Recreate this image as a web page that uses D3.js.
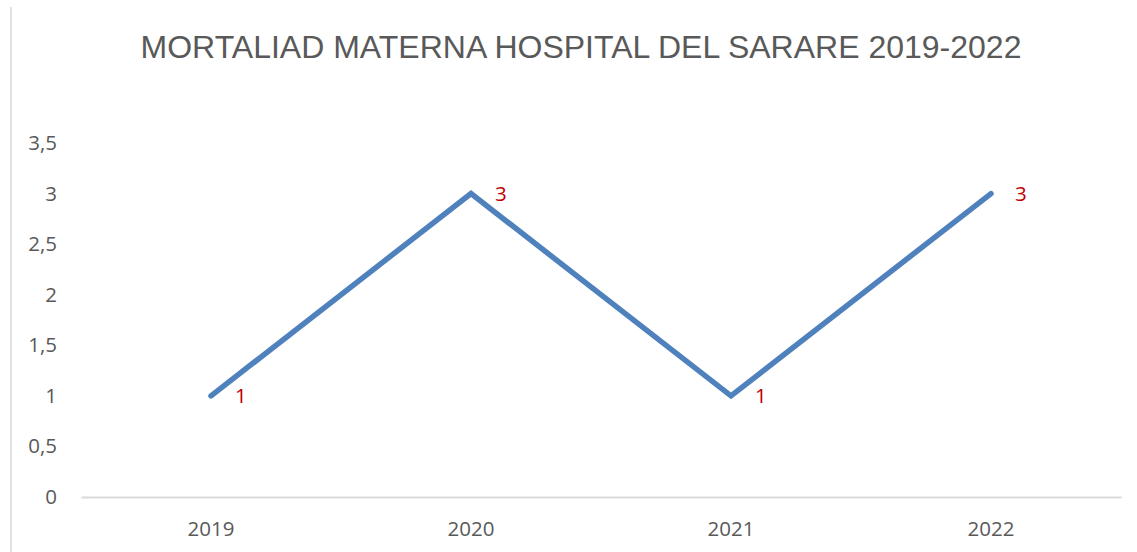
<!DOCTYPE html>
<html>
<head>
<meta charset="utf-8">
<script src="https://cdn.jsdelivr.net/npm/d3@7"></script>
<style>
  html, body { margin: 0; padding: 0; background: #fff; }
  svg { display: block; }
</style>
</head>
<body>
<svg id="chart" width="1137" height="552"></svg>
<script>
const title = "MORTALIAD MATERNA HOSPITAL DEL SARARE 2019-2022";
const categories = ["2019", "2020", "2021", "2022"];
const values = [1, 3, 1, 3];
const yTicks = [0, 0.5, 1, 1.5, 2, 2.5, 3, 3.5];

const svg = d3.select("#chart");
const W = 1137, H = 552;
const plot = { left: 81, right: 1121, top: 143, bottom: 497 };
const FONT = "'Open Sans', 'Liberation Sans', sans-serif";

// chart-area border (left edge visible)
svg.append("line")
  .attr("x1", 11).attr("x2", 11).attr("y1", 7).attr("y2", H)
  .attr("stroke", "#d9d9d9").attr("stroke-width", 1.5);

svg.append("text")
  .attr("x", 581).attr("y", 57.5)
  .attr("text-anchor", "middle")
  .attr("font-family", "'Liberation Sans', Arial, sans-serif")
  .attr("font-size", 32)
  .attr("fill", "#595959")
  .text(title);

const x = d3.scaleBand().domain(categories).range([plot.left, plot.right]);
const y = d3.scaleLinear().domain([0, 3.5]).range([plot.bottom, plot.top]);

const fmt = v => String(v).replace(".", ",");

// y axis labels
const yAxis = svg.append("g")
  .attr("transform", `translate(${plot.left},0)`)
  .call(d3.axisLeft(y).tickValues(yTicks).tickFormat(fmt).tickSize(0).tickPadding(24));
yAxis.select(".domain").remove();
yAxis.attr("font-family", FONT).attr("font-size", 20.5);
yAxis.selectAll("text").attr("fill", "#595959");

// x axis
const xAxis = svg.append("g")
  .attr("transform", `translate(0,${plot.bottom})`)
  .call(d3.axisBottom(x).tickSize(0).tickPadding(24));
xAxis.attr("font-family", FONT).attr("font-size", 20.5);
xAxis.select(".domain").attr("stroke", "#d9d9d9").attr("stroke-width", 2);
xAxis.selectAll("text").attr("fill", "#595959");

const cx = d => x(d) + x.bandwidth() / 2;
const line = d3.line().x((d, i) => cx(categories[i])).y(d => y(d));

svg.append("path")
  .datum(values)
  .attr("d", line)
  .attr("fill", "none")
  .attr("stroke", "#4F81BD")
  .attr("stroke-width", 5.5)
  .attr("stroke-linecap", "round")
  .attr("stroke-linejoin", "miter");

svg.selectAll(".lbl").data(values).enter().append("text")
  .attr("class", "lbl")
  .attr("x", (d, i) => cx(categories[i]) + 24)
  .attr("y", d => y(d) + 7.5)
  .attr("font-family", FONT)
  .attr("font-size", 20.5)
  .attr("fill", "#C00000")
  .text(d => d);
</script>
</body>
</html>
